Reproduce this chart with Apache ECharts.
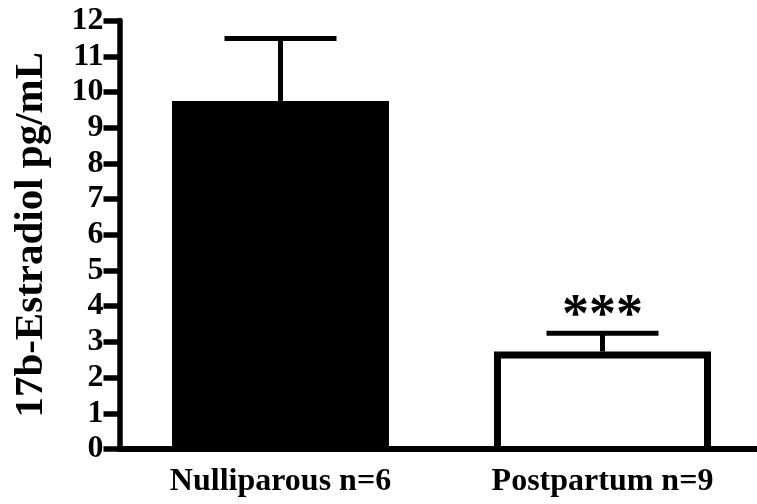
<!DOCTYPE html>
<html><head><meta charset="utf-8">
<script src="https://cdn.jsdelivr.net/npm/echarts@6/dist/echarts.min.js"></script>
<style>html,body{margin:0;padding:0;background:#fff}#c{width:757px;height:504px}</style>
</head><body><div id="c"></div>
<script>
const categories = ['Nulliparous n=6', 'Postpartum n=9'];
const means = [9.75, 2.73];
const sem = [1.75, 0.51];
const significance = ['', '***'];
const yMin = 0, yMax = 12, yInterval = 1;
const yAxisTitle = '17b-Estradiol pg/mL';

const FONT = '"Liberation Serif", "Times New Roman", serif';
const BAR_W = 217, BORDER = 7;
const chart = echarts.init(document.getElementById('c'), null, {renderer: 'canvas'});

const barData = means.map((m, i) => ({
  value: m,
  itemStyle: {color: i === 0 ? '#000' : '#fff', borderWidth: 0}
}));
const errData = means.map((m, i) => [i, m, m + sem[i]]);

chart.setOption({
  animation: false,
  backgroundColor: '#fff',
  grid: {left: 119.5, top: 20.6, bottom: 55, width: 644, containLabel: false, outerBoundsMode: 'none'},
  xAxis: {
    type: 'category',
    data: categories,
    z: 5,
    axisLine: {lineStyle: {color: '#000', width: 6}},
    axisTick: {alignWithLabel: true, length: 14, lineStyle: {color: '#000', width: 5.5}},
    axisLabel: {color: '#000', fontFamily: FONT, fontWeight: 'bold', fontSize: 32, margin: 17}
  },
  yAxis: {
    type: 'value',
    min: yMin, max: yMax, interval: yInterval,
    name: yAxisTitle,
    nameLocation: 'middle',
    nameGap: 68,
    nameTextStyle: {color: '#000', fontFamily: FONT, fontWeight: 'bold', fontSize: 41},
    splitLine: {show: false},
    axisLine: {show: true, lineStyle: {color: '#000', width: 5.5}},
    axisTick: {show: true, length: 16, lineStyle: {color: '#000', width: 5.5}},
    axisLabel: {color: '#000', fontFamily: FONT, fontWeight: 'bold', fontSize: 32, margin: 16}
  },
  series: [
    {type: 'bar', data: barData, barWidth: BAR_W, z: 2},
    {
      type: 'custom', z: 3,
      data: errData,
      renderItem: function (params, api) {
        const i = params.dataIndex;
        const x = api.value(0);
        const base = api.coord([x, api.value(1)]);
        const zero = api.coord([x, 0]);
        const top = api.coord([x, api.value(2)]);
        const half = 56;
        const lbl = significance[i];
        const children = [];
        if (i === 1) {
          const h = BORDER / 2;
          const l = base[0] - BAR_W / 2 + h, r = base[0] + BAR_W / 2 - h, t = base[1] + h;
          children.push({type: 'polyline', shape: {points: [[l, zero[1]], [l, t], [r, t], [r, zero[1]]]},
            style: {stroke: '#000', lineWidth: BORDER, fill: null, lineJoin: 'miter'}});
        }
        children.push(
          {type: 'line', shape: {x1: top[0], y1: base[1], x2: top[0], y2: top[1]}, style: {stroke: '#000', lineWidth: 5}},
          {type: 'line', shape: {x1: top[0] - half, y1: top[1], x2: top[0] + half, y2: top[1]}, style: {stroke: '#000', lineWidth: 5}}
        );
        if (lbl) {
          children.push({type: 'text', style: {text: lbl, x: top[0], y: top[1] + 11, fill: '#000',
            font: 'bold 54px ' + FONT, align: 'center', verticalAlign: 'bottom'}});
        }
        return {type: 'group', children: children};
      }
    }
  ]
});
</script></body></html>
